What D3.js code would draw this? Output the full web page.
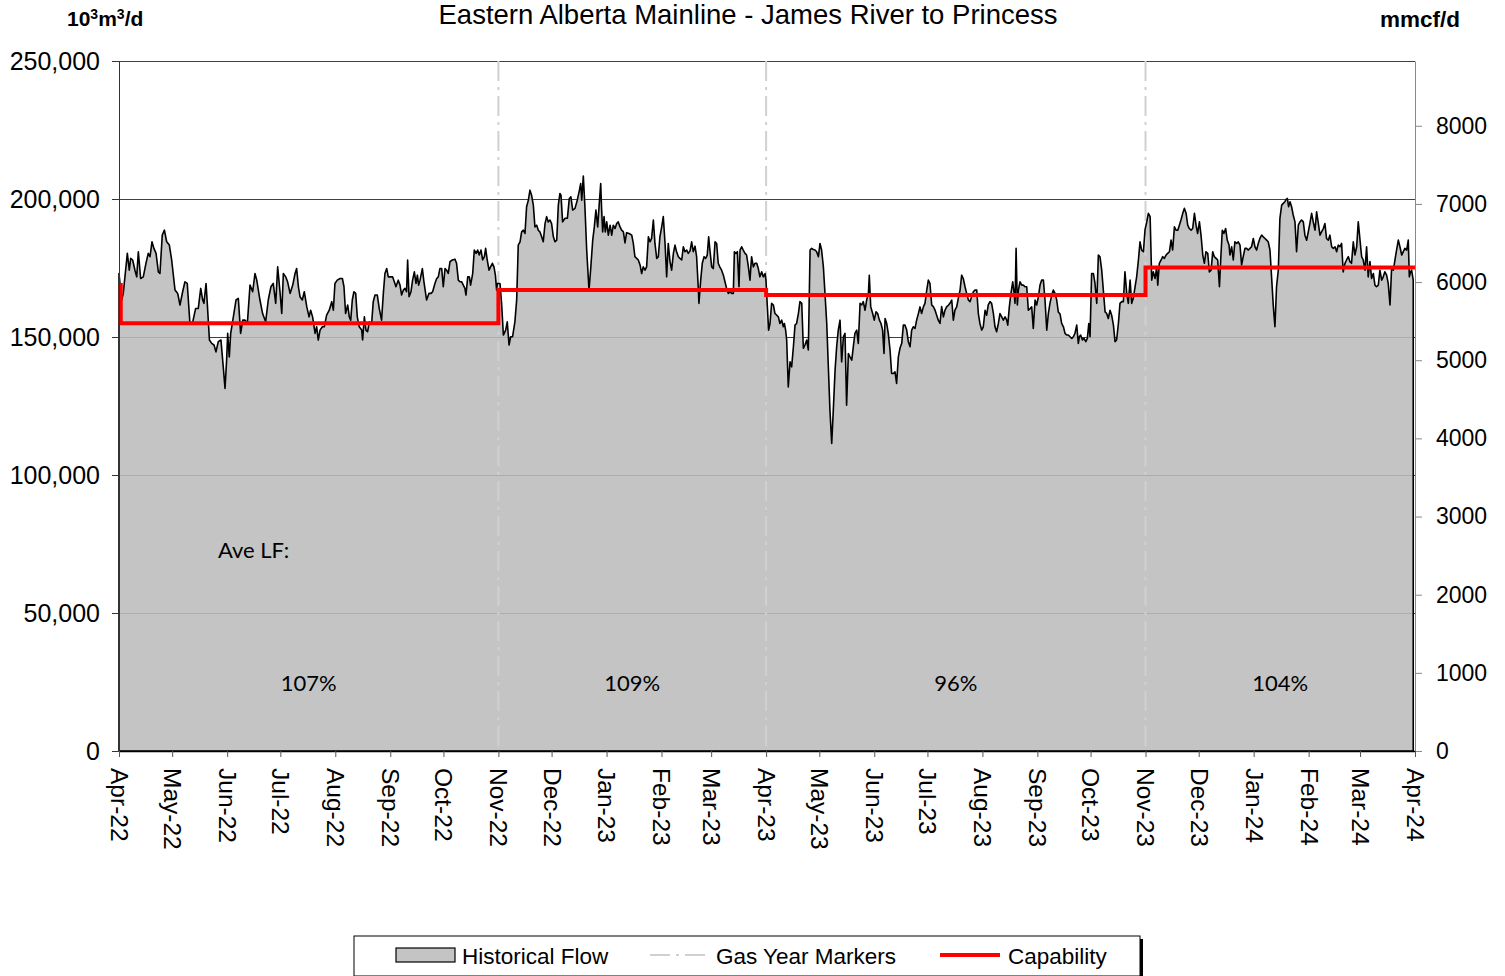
<!DOCTYPE html>
<meta charset="utf-8">
<style>
  body {
    margin: 0;
    background: #fff;
    font-family: "Liberation Sans", Arial, Helvetica, sans-serif;
  }
  svg { display: block; }
</style>
<body>
  <svg id="chart" width="1505" height="976"></svg>
</body>

<script src="https://d3js.org/d3.v7.min.js"></script>
<script>
// ---- data ----
var startDate = "2022-04-01";
var endDate = "2024-04-01";

// [days since startDate, 10^3 m3/d]
var flowSeries = [
  [0,173000],[1.5,163400],[2.4,165800],[4.7,180300],[5.8,174200],[6.6,178500],[7.7,177900],[9,174200],[10,171800],[10.9,180900],
  [12.2,171200],[13.7,171800],[15.2,176700],[16.5,180300],[17.5,179100],[18.6,184500],[19.7,182100],[20.9,180300],[22.2,173600],[23.1,173000],
  [24.4,186900],[25.6,188700],[26.9,184500],[28.4,183300],[29.7,177900],[31.6,167000],[33.1,165800],[34.4,161600],[35.9,166400],[37.2,170000],
  [38.5,169400],[40,154900],[41.6,155500],[43.2,160300],[44.7,160300],[46.1,167600],[47.2,163400],[47.9,162200],[49.1,169400],[49.8,162200],
  [51,148900],[52.3,147700],[53.6,147100],[54.7,144600],[56,148300],[57.5,148900],[58.8,139200],[59.8,131400],[60.7,141600],[61.3,151300],
  [62.2,142800],[63,151300],[64.5,157300],[66,163400],[67.3,164000],[68.6,151300],[69.8,156100],[71.1,156100],[72.4,154900],[73.9,168800],
  [75.4,166400],[76.7,173000],[77.7,170600],[79.5,163400],[81,158500],[82.7,155500],[84.2,163400],[85.7,168200],[87,169400],[88.4,162200],
  [89.5,175400],[90.8,166400],[91.8,158500],[92.7,173000],[94,171800],[95.1,170000],[96.5,165800],[98,168800],[99.3,173000],[100.2,174800],
  [101.2,168200],[102.1,164600],[103.4,163400],[104.5,166400],[105.9,161000],[107.2,157300],[108.1,159700],[109.2,157300],[110.6,151300],[111.5,153700],
  [112.4,148900],[113.4,152500],[114.7,153700],[115.8,153700],[117.1,157900],[118.6,159700],[120,162800],[120.9,159700],[121.8,169400],[123.1,170600],
  [124.7,171200],[126.0,171200],[126.9,168200],[127.8,158500],[129.0,161600],[129.9,157300],[130.7,156100],[131.6,163400],[132.5,166400],[133.5,165800],
  [134.4,157300],[135.5,153700],[136.9,152500],[137.4,148900],[138.4,157300],[139.3,152500],[140.2,151900],[141.2,155500],[142.5,154900],[143.4,162800],
  [144.4,165200],[145.7,165200],[146.8,160300],[148.1,156100],[149.1,165800],[150.0,173000],[151.0,174800],[151.9,171800],[153.2,171800],[154.3,171800],
  [155.3,170000],[156.2,168200],[157.5,170600],[158.5,168800],[159.4,165200],[160.4,167000],[161.3,167600],[162.2,166400],[162.8,177900],[163.6,164600],
  [164.7,166400],[165.6,170600],[166.6,173600],[167.5,169400],[168.3,172400],[169.0,168800],[169.8,170600],[171.1,174800],[172.0,170000],[173.5,163400],
  [174.8,165800],[176.0,165800],[176.9,166400],[178.2,169400],[179.2,171200],[180.1,171800],[181.0,174800],[182.0,174800],[182.9,168200],[183.9,174800],
  [184.8,174200],[185.7,173000],[186.7,177300],[188.0,177900],[189.5,178200],[190.4,176700],[191.4,170600],[192.3,170000],[193.3,170000],[194.2,168800],
  [195.1,167600],[195.7,165200],[196.7,171800],[197.6,171800],[198.3,168800],[199.5,173000],[200.4,181500],[201.4,180300],[202.3,181500],[203.2,179700],
  [204.2,181500],[205.1,177900],[206.1,179100],[206.8,182100],[207.7,177900],[208.7,174200],[209.6,175400],[210.6,176700],[211.5,175400],[212.3,172400],
  [213.0,167000],[213.4,169400],[214.9,169400],[215.8,162200],[216.8,150700],[218.1,152500],[219.0,155500],[220.0,147100],[220.9,150100],[222.0,150100],
  [223.3,155500],[224.3,163400],[225.2,183300],[226.2,184500],[227.1,188100],[228.1,188700],[229.0,187500],[229.9,197200],[230.9,199600],[231.8,203200],
  [232.7,201400],[233.7,197800],[234.6,189900],[235.6,190500],[236.5,188700],[237.4,188100],[238.4,186300],[239.3,184500],[240.3,191100],[241.2,193600],
  [242.1,191700],[243.1,192400],[244.0,191100],[245.0,186300],[245.9,184500],[246.9,185100],[247.8,197800],[248.7,202000],[249.3,201400],[250.2,191700],
  [251.6,193000],[252.9,193000],[254.0,200200],[254.9,200800],[255.9,196000],[257.2,196600],[258.5,199600],[259.7,203200],[260.4,205600],[261.0,199600],
  [261.9,208300],[262.8,197200],[263.8,181500],[265.1,167000],[266.0,174200],[267.2,185100],[268.1,189900],[269.0,196000],[270.0,189900],[270.9,198400],
  [271.7,205600],[272.2,196600],[272.8,188100],[273.6,193600],[274.3,188100],[275.1,191700],[276.0,186900],[277.0,190500],[277.9,186900],[278.8,190500],
  [279.8,189300],[280.7,191100],[281.6,191700],[282.6,189900],[283.5,188700],[284.5,188100],[285.4,184100],[286.3,187800],[287.7,187500],[289.2,186900],
  [290.1,183900],[291.0,179100],[292.0,178500],[292.9,177900],[293.9,176100],[294.8,173000],[295.7,175400],[296.7,174200],[297.6,175400],[298.6,186300],
  [299.5,184500],[300.4,185700],[301.4,192400],[302.3,183900],[303.3,178500],[304.2,179100],[305.1,186300],[306.1,189900],[307.0,193600],[308.0,183900],
  [308.9,171800],[309.8,183900],[310.8,177300],[311.7,174200],[312.7,180300],[313.6,183300],[314.5,180900],[315.5,179100],[316.4,178500],[317.4,177900],
  [318.3,182700],[319.2,180900],[320.2,181500],[321.1,180300],[322.1,181200],[323.0,184500],[323.9,180900],[324.9,182900],[325.8,179100],[326.8,167000],
  [327.1,162200],[328.1,170600],[329.0,176700],[330.0,179100],[330.9,178500],[331.8,179700],[332.6,186300],[333.3,181500],[334.3,175400],[335.2,174800],
  [336.2,184500],[337.1,183900],[338.0,176700],[339.0,175200],[339.9,174200],[340.9,172400],[341.8,170000],[342.7,167600],[343.7,165800],[344.6,166400],
  [345.6,165800],[346.5,165800],[347.1,180900],[348.0,180300],[348.8,180900],[349.7,168200],[350.3,181500],[351.2,182700],[352.1,181500],[353.1,180300],
  [354.0,179700],[355.0,175400],[355.9,170600],[356.8,179100],[357.8,175400],[358.7,176700],[359.7,176700],[360.6,174800],[361.5,171800],[362.5,173600],
  [363.4,171800],[364.4,173000],[364.9,170600],[365.7,161000],[366.4,152500],[367.2,154900],[368.1,162200],[369.1,161600],[370.0,158500],[371.0,157900],
  [371.9,157300],[372.8,154900],[373.8,156100],[374.7,153700],[375.3,154900],[376.0,152500],[376.6,148900],[377.5,131900],[378.5,141000],[379.4,139200],
  [380.4,146500],[381.3,154300],[382.2,154900],[383.2,158500],[384.1,162800],[385.1,162200],[386.0,145900],[386.9,147100],[387.9,148900],[388.8,145300],
  [389.8,181500],[390.7,182100],[391.6,181700],[392.6,181500],[393.5,180900],[394.5,179100],[395.4,183900],[396.3,181500],[397.3,175400],[398.2,165800],
  [399.2,154900],[400.1,139200],[401.0,123500],[402.0,111400],[402.9,123500],[403.9,138000],[404.8,146500],[405.7,152500],[406.7,156100],[407.6,141000],
  [408.6,150100],[409.5,151300],[410.4,125300],[411.4,144000],[412.3,142800],[413.3,141600],[414.2,146500],[415.1,151300],[416.1,152500],[417.0,147700],
  [418.0,162200],[418.9,161600],[419.8,162800],[420.8,159700],[421.7,163400],[422.7,165800],[423.2,172400],[424.0,161000],[425.1,158500],[426.0,156100],
  [427.0,159100],[427.9,158500],[428.9,156100],[429.8,154900],[430.7,152500],[431.5,144000],[432.1,156700],[433.0,154900],[433.9,151300],[434.9,145300],
  [435.8,136800],[436.8,136800],[437.7,137400],[438.6,133200],[439.6,142800],[440.5,145900],[441.5,147700],[442.4,154300],[443.3,154300],[444.3,152500],
  [445.2,148300],[446.2,146500],[447.1,152500],[448.0,153700],[449.0,153100],[449.9,156100],[450.9,158500],[451.8,160900],[452.7,158500],[453.7,160900],
  [454.6,162200],[455.6,167000],[456.5,170600],[457.4,169400],[458.4,161600],[459.3,161000],[460.3,159700],[461.2,157900],[462.1,156100],[463.1,154900],
  [464.0,161000],[465.0,157300],[465.9,159700],[466.8,160900],[467.8,161500],[468.7,162200],[469.7,163400],[470.6,156100],[471.5,159700],[472.5,160900],
  [473.4,164000],[474.4,167000],[475.3,172400],[476.2,171200],[477.2,168200],[478.1,165800],[479.1,163400],[480.0,162800],[480.9,164600],[481.9,166400],
  [482.8,167000],[483.8,167000],[484.7,158500],[485.6,154900],[486.6,152500],[487.5,153700],[488.5,159700],[489.4,157900],[490.3,161600],[491.3,162800],
  [492.2,162200],[493.2,158500],[494.1,153700],[495.0,151900],[496.0,154900],[496.9,158500],[497.9,157300],[498.8,156100],[499.8,157300],[500.7,156100],
  [501.3,154300],[502.2,161000],[503.1,165800],[504.1,170000],[504.8,166400],[505.4,162200],[506.0,182100],[506.7,161600],[507.3,167000],[508.2,170000],
  [509.2,168800],[510.1,168800],[511.0,168200],[512.0,168200],[512.9,159700],[513.9,160300],[514.8,160900],[515.7,153100],[516.7,163400],[517.6,161600],
  [518.6,164600],[519.5,168800],[520.4,170600],[521.4,170600],[522.3,163400],[523.3,152500],[524.2,158500],[525.1,162200],[526.1,165200],[527.0,167000],
  [528.0,165800],[528.9,163400],[529.8,159100],[530.8,158300],[531.7,154900],[532.7,153700],[533.6,151300],[534.5,150700],[535.5,150700],[536.4,150100],
  [537.4,149500],[538.3,150100],[539.2,151300],[540.2,154300],[541.1,147700],[541.7,150100],[542.4,150700],[543.4,148900],[544.3,149500],[545.3,148300],
  [546.2,149500],[547.0,154900],[547.7,150100],[548.6,173000],[549.6,173000],[550.5,169400],[551.5,162200],[552.4,179700],[553.3,179100],[554.3,174200],
  [555.2,167000],[556.2,159100],[557.1,158500],[558.0,156700],[559.0,159700],[559.9,157900],[560.9,154300],[561.8,148300],[562.7,148900],[563.7,154900],
  [564.6,162200],[565.6,162800],[566.5,162800],[567.4,173600],[568.4,165800],[569.3,162200],[570.3,170600],[571.2,162200],[572.1,164000],[573.1,168200],
  [574.0,171800],[575.0,177900],[575.9,184500],[576.8,181500],[577.8,180900],[578.7,188700],[579.7,191700],[580.6,194800],[581.6,193600],[582.5,170600],
  [583.4,173600],[584.4,171200],[585.3,175400],[585.9,168800],[586.8,176700],[587.8,177900],[588.7,179100],[589.6,178500],[590.6,179700],[591.5,180300],
  [592.5,180900],[593.4,185100],[594.3,181500],[595.3,189900],[596.2,188700],[597.2,188700],[598.1,190500],[599.0,192400],[600.0,194800],[600.9,196600],
  [601.9,194800],[602.8,190500],[603.7,189300],[604.7,188700],[605.6,189300],[606.6,194800],[607.5,190500],[608.4,187500],[609.4,191700],[610.3,186900],
  [611.3,179700],[612.2,176700],[613.1,180900],[614.1,180300],[615.0,173600],[616.0,174200],[616.9,180900],[617.8,179100],[618.8,178500],[619.7,177900],
  [620.7,168200],[621.4,177900],[622.3,188700],[623.2,187500],[624.2,189300],[625.1,185100],[626.1,183300],[626.6,179700],[627.6,182700],[628.5,177900],
  [629.4,184500],[630.4,183900],[631.3,184500],[632.3,183300],[633.2,176100],[634.1,179100],[635.1,182100],[636.0,182100],[637.0,181500],[637.9,182100],
  [638.8,182700],[639.8,185700],[640.7,182700],[641.7,181500],[642.6,183900],[643.5,185700],[644.5,186900],[645.4,186300],[646.4,185700],[647.3,185100],
  [648.2,184500],[649.2,181500],[650.1,171800],[651.1,161000],[652.0,153700],[652.9,168200],[653.9,174200],[654.8,193000],[655.8,197800],[656.7,198400],
  [657.6,199000],[658.2,199800],[659.0,200200],[659.7,197200],[660.5,199000],[661.4,197200],[662.3,194200],[663.3,191700],[664.2,180900],[665.2,190500],
  [666.1,191700],[667.0,192400],[668.0,191700],[668.9,186900],[669.9,185100],[670.8,188100],[671.7,191100],[672.7,194800],[673.6,191700],[674.6,188700],
  [675.5,195400],[676.5,191100],[677.4,186900],[678.3,188100],[679.3,189300],[680.2,191100],[681.1,185700],[682.1,185100],[683.0,186900],[684.0,182700],
  [684.9,182100],[685.9,182700],[686.8,180900],[687.7,183300],[688.7,182700],[689.6,183900],[690.5,173600],[691.5,176700],[692.4,177900],[693.4,179100],
  [694.3,177300],[695.2,176700],[696.2,184500],[697.1,179700],[698.1,182700],[699.0,191700],[699.9,185700],[700.9,179100],[701.8,177900],[702.8,174200],
  [703.7,182700],[704.6,171800],[705.6,177300],[706.5,171200],[707.5,173000],[708.4,168800],[709.3,168200],[710.3,168800],[711.2,174200],[712.2,170600],
  [713.1,171800],[714.0,173600],[715.0,172400],[715.9,169400],[716.9,161600],[717.8,174800],[718.8,174200],[719.7,177900],[720.6,181500],[721.6,185100],
  [722.5,182700],[723.5,179700],[724.4,180900],[725.3,182100],[726.3,181500],[727.2,185100],[727.8,171800],[728.5,173600],[729.1,174200],[730.0,170600]
];

// capability steps: day offset where each level starts, level in 10^3 m3/d
var capDays = [0, 1, 214, 365, 579, 731];
var capValues = [168800, 155000, 167000, 165200, 175200, 175200];

var gasYearMarkers = ["2022-11-01", "2023-04-01", "2023-11-01"];
var lfPeriods = [["2022-04-01", "2022-11-01"], ["2022-11-01", "2023-04-01"], ["2023-04-01", "2023-11-01"], ["2023-11-01", "2024-04-01"]];
var lfLabels = ["107%", "109%", "96%", "104%"];

var leftTicks = [0, 50000, 100000, 150000, 200000, 250000];
var rightTicks = [0, 1000, 2000, 3000, 4000, 5000, 6000, 7000, 8000];
var m3ToMmcf = 0.0353147;   // 10^3 m3/d -> mmcf/d

// ---- layout ----
var plotL = 119, plotR = 1415, plotT = 61, plotB = 751;
var svg = d3.select("#chart");
var parse = d3.utcParse("%Y-%m-%d");
var t0 = parse(startDate);
var dayToDate = function (d) { return new Date(t0.getTime() + d * 864e5); };

var x = d3.scaleUtc().domain([t0, parse(endDate)]).range([plotL, plotR]);
var y = d3.scaleLinear().domain([0, 250000]).range([plotB, plotT]);
var yR = d3.scaleLinear().domain([0, 250000 * m3ToMmcf]).range([plotB, plotT]);

// gridlines (under the flow area)
svg.append("g").selectAll("line").data(leftTicks.slice(1)).enter().append("line")
  .attr("x1", plotL).attr("x2", plotR)
  .attr("y1", function (d) { return Math.round(y(d)) + 0.5; })
  .attr("y2", function (d) { return Math.round(y(d)) + 0.5; })
  .attr("stroke", "#404040").attr("stroke-width", 1);

// historical flow area
var area = d3.area()
  .x(function (d) { return x(dayToDate(d[0])); })
  .y0(y(0))
  .y1(function (d) { return y(d[1]); });

svg.append("path").datum(flowSeries)
  .attr("d", area)
  .attr("fill", "rgb(188,188,188)")
  .attr("fill-opacity", 0.88);

// gas year markers
svg.append("g").selectAll("line").data(gasYearMarkers).enter().append("line")
  .attr("x1", function (d) { return x(parse(d)); }).attr("x2", function (d) { return x(parse(d)); })
  .attr("y1", plotT).attr("y2", plotB)
  .attr("stroke", "#d0d0d0").attr("stroke-width", 2)
  .attr("stroke-dasharray", "20,6,3,6");

// flow outline
svg.append("path").datum(flowSeries)
  .attr("d", area)
  .attr("fill", "none")
  .attr("stroke", "#000")
  .attr("stroke-width", 1.6)
  .attr("stroke-linejoin", "round");

// capability
var capLine = d3.line()
  .x(function (d) { return x(dayToDate(d[0])); })
  .y(function (d) { return y(d[1]); })
  .curve(d3.curveStepAfter);

svg.append("path").datum(d3.zip(capDays, capValues))
  .attr("d", capLine)
  .attr("fill", "none")
  .attr("stroke", "#ff0000")
  .attr("stroke-width", 4);

// axes
var gL = svg.append("g").attr("transform", "translate(" + plotL + ",0)")
  .call(d3.axisLeft(y).tickValues(leftTicks).tickSize(7).tickSizeOuter(0).tickPadding(12).tickFormat(d3.format(",")));
gL.select(".domain").attr("stroke", "#333");
gL.selectAll(".tick line").attr("stroke", "#333");
gL.selectAll("text").style("font-size", "25px").style("font-family", "Liberation Sans, Arial, sans-serif").attr("fill", "#000");

var gR = svg.append("g").attr("transform", "translate(" + plotR + ",0)")
  .call(d3.axisRight(yR).tickValues(rightTicks).tickSize(7).tickSizeOuter(0).tickPadding(14).tickFormat(d3.format("d")));
gR.select(".domain").attr("stroke", "#888");
gR.selectAll(".tick line").attr("stroke", "#888");
gR.selectAll("text").style("font-size", "23px").style("font-family", "Liberation Sans, Arial, sans-serif").attr("fill", "#000");

var gB = svg.append("g").attr("transform", "translate(0," + plotB + ")")
  .call(d3.axisBottom(x).ticks(d3.utcMonth.every(1)).tickSize(6).tickSizeOuter(0).tickFormat(d3.utcFormat("%b-%y")));
gB.select(".domain").attr("stroke", "#000").attr("stroke-width", 1.5);
gB.selectAll(".tick line").attr("stroke", "#555");
gB.selectAll("text")
  .attr("y", 0).attr("x", 17).attr("dy", "0.35em")
  .attr("transform", "rotate(90)")
  .style("text-anchor", "start")
  .style("font-size", "24.5px")
  .style("font-family", "Liberation Sans, Arial, sans-serif")
  .attr("fill", "#000");

// titles
svg.append("text").attr("x", 748).attr("y", 24).attr("text-anchor", "middle")
  .style("font-size", "27.5px").text("Eastern Alberta Mainline - James River to Princess");

var unitL = svg.append("text").attr("x", 67).attr("y", 26)
  .style("font-size", "21px").style("font-weight", "bold");
unitL.append("tspan").text("10");
unitL.append("tspan").attr("dy", -7).style("font-size", "14px").text("3");
unitL.append("tspan").attr("dy", 7).text("m");
unitL.append("tspan").attr("dy", -7).style("font-size", "14px").text("3");
unitL.append("tspan").attr("dy", 7).text("/d");

svg.append("text").attr("x", 1380).attr("y", 27)
  .style("font-size", "22.5px").style("font-weight", "bold").text("mmcf/d");

// load factor annotations
svg.append("text").attr("x", 218).attr("y", 558)
  .style("font-family", "Lato, 'Open Sans', sans-serif").style("font-size", "22px").text("Ave LF:");
svg.append("g").selectAll("text").data(lfLabels).enter().append("text")
  .attr("x", function (d, i) { return (x(parse(lfPeriods[i][0])) + x(parse(lfPeriods[i][1]))) / 2; })
  .attr("y", 691)
  .attr("text-anchor", "middle")
  .style("font-family", "Lato, 'Open Sans', sans-serif").style("font-size", "22px")
  .text(function (d) { return d; });

// legend
var lg = svg.append("g");
lg.append("rect").attr("x", 357).attr("y", 939).attr("width", 786).attr("height", 40).attr("fill", "#000");
lg.append("rect").attr("x", 354).attr("y", 936).attr("width", 786).attr("height", 40)
  .attr("fill", "#fff").attr("stroke", "#000").attr("stroke-width", 1);
lg.append("rect").attr("x", 396).attr("y", 948).attr("width", 59).attr("height", 14)
  .attr("fill", "rgb(196,196,196)").attr("stroke", "#000").attr("stroke-width", 1.2);
lg.append("text").attr("x", 462).attr("y", 964).style("font-size", "22.5px").text("Historical Flow");
lg.append("line").attr("x1", 650).attr("x2", 708).attr("y1", 955).attr("y2", 955)
  .attr("stroke", "#d0d0d0").attr("stroke-width", 2).attr("stroke-dasharray", "20,6,3,6");
lg.append("text").attr("x", 716).attr("y", 964).style("font-size", "22.5px").text("Gas Year Markers");
lg.append("line").attr("x1", 940).attr("x2", 1000).attr("y1", 955).attr("y2", 955)
  .attr("stroke", "#ff0000").attr("stroke-width", 4);
lg.append("text").attr("x", 1008).attr("y", 964).style("font-size", "22.5px").text("Capability");
</script>
